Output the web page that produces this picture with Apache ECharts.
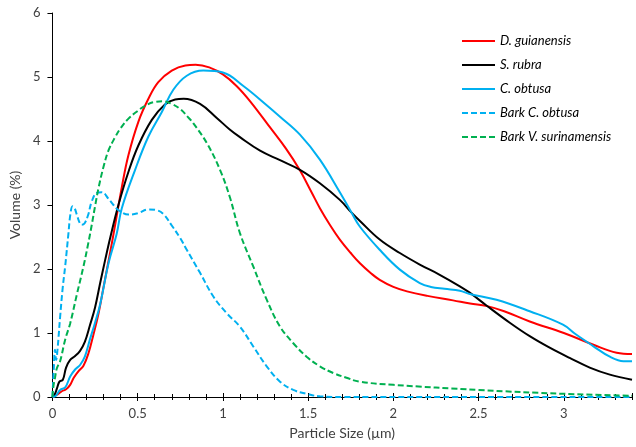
<!DOCTYPE html>
<html>
<head>
<meta charset="utf-8">
<script src="https://cdn.jsdelivr.net/npm/echarts@6/dist/echarts.min.js"></script>
<style>
html,body{margin:0;padding:0;background:#fff;}
#chart{width:636px;height:447px;}
</style>
</head>
<body>
<div id="chart"></div>
<script>
var seriesNames = ['D. guianensis', 'S. rubra', 'C. obtusa', 'Bark C. obtusa', 'Bark V. surinamensis'];
var xTickLabels = ['0', '0.5', '1', '1.5', '2', '2.5', '3'];
var yTickLabels = ['0', '1', '2', '3', '4', '5', '6'];

var dGuianensis = [[0,0],[0.03,0.04],[0.055,0.09],[0.08,0.12],[0.104,0.19],[0.125,0.30],[0.152,0.40],[0.182,0.49],[0.211,0.68],[0.24,0.97],[0.27,1.30],[0.30,1.72],[0.34,2.28],[0.37,2.72],[0.407,3.28],[0.446,3.78],[0.504,4.30],[0.563,4.66],[0.621,4.92],[0.70,5.10],[0.78,5.18],[0.84,5.19],[0.92,5.15],[1.0,5.04],[1.08,4.86],[1.16,4.62],[1.28,4.20],[1.37,3.88],[1.45,3.55],[1.52,3.20],[1.569,2.95],[1.63,2.68],[1.686,2.46],[1.75,2.25],[1.804,2.09],[1.87,1.93],[1.92,1.83],[2.0,1.72],[2.08,1.65],[2.2,1.58],[2.35,1.51],[2.45,1.46],[2.55,1.42],[2.65,1.34],[2.8,1.18],[3.0,1.0],[3.17,0.82],[3.31,0.69],[3.4,0.67]];

var sRubra = [[0,0],[0.015,0.05],[0.026,0.13],[0.041,0.24],[0.061,0.27],[0.08,0.46],[0.104,0.58],[0.133,0.64],[0.162,0.72],[0.19,0.86],[0.22,1.12],[0.25,1.40],[0.28,1.78],[0.31,2.15],[0.34,2.50],[0.387,3.0],[0.446,3.52],[0.504,3.93],[0.583,4.33],[0.66,4.57],[0.72,4.65],[0.77,4.66],[0.866,4.58],[0.964,4.36],[1.04,4.18],[1.10,4.06],[1.218,3.85],[1.335,3.70],[1.452,3.55],[1.569,3.34],[1.686,3.08],[1.755,2.88],[1.804,2.75],[1.92,2.46],[2.038,2.25],[2.155,2.07],[2.272,1.91],[2.39,1.73],[2.448,1.63],[2.546,1.43],[2.683,1.16],[2.80,0.95],[2.917,0.77],[3.034,0.61],[3.152,0.46],[3.27,0.35],[3.4,0.27]];

var cObtusa = [[0,0],[0.02,0.02],[0.045,0.11],[0.075,0.15],[0.104,0.32],[0.133,0.43],[0.162,0.50],[0.19,0.63],[0.22,0.90],[0.25,1.16],[0.28,1.45],[0.33,2.10],[0.377,2.55],[0.407,2.95],[0.485,3.55],[0.563,4.07],[0.641,4.45],[0.709,4.80],[0.788,5.02],[0.885,5.10],[1.0,5.07],[1.12,4.86],[1.257,4.56],[1.335,4.38],[1.452,4.10],[1.569,3.71],[1.686,3.20],[1.755,2.88],[1.804,2.66],[1.92,2.30],[2.038,1.99],[2.155,1.78],[2.22,1.72],[2.3,1.69],[2.39,1.66],[2.448,1.61],[2.605,1.52],[2.80,1.34],[2.995,1.13],[3.07,0.98],[3.17,0.80],[3.27,0.63],[3.35,0.56],[3.4,0.56]];

var barkCObtusa = [[0,0],[0.008,0.45],[0.015,0.74],[0.022,0.58],[0.03,0.75],[0.045,1.25],[0.06,1.70],[0.075,2.05],[0.094,2.56],[0.105,2.85],[0.118,2.98],[0.13,2.95],[0.143,2.85],[0.16,2.72],[0.172,2.69],[0.19,2.72],[0.21,2.85],[0.23,3.05],[0.26,3.19],[0.29,3.20],[0.328,3.10],[0.358,3.0],[0.387,2.92],[0.446,2.85],[0.5,2.87],[0.563,2.93],[0.61,2.92],[0.65,2.86],[0.70,2.68],[0.75,2.48],[0.788,2.30],[0.866,1.94],[0.944,1.57],[1.022,1.31],[1.10,1.10],[1.178,0.79],[1.257,0.48],[1.335,0.24],[1.413,0.11],[1.491,0.05],[1.569,0.01],[1.7,0],[2.5,0],[3.4,0]];

var barkVSurinamensis = [[0,0],[0.006,0.17],[0.015,0.30],[0.026,0.45],[0.045,0.56],[0.075,0.90],[0.104,1.15],[0.143,1.60],[0.182,2.04],[0.21,2.40],[0.23,2.68],[0.25,2.98],[0.27,3.26],[0.30,3.60],[0.33,3.86],[0.368,4.06],[0.40,4.20],[0.446,4.35],[0.50,4.47],[0.543,4.55],[0.60,4.61],[0.65,4.62],[0.70,4.58],[0.749,4.50],[0.80,4.36],[0.826,4.28],[0.905,3.97],[0.983,3.55],[1.041,3.12],[1.10,2.56],[1.178,2.04],[1.257,1.52],[1.335,1.10],[1.413,0.84],[1.491,0.63],[1.569,0.48],[1.647,0.375],[1.725,0.30],[1.80,0.24],[2.0,0.19],[2.5,0.11],[3.0,0.05],[3.4,0.02]];

var seriesData = [dGuianensis, sRubra, cObtusa, barkCObtusa, barkVSurinamensis];
var seriesColors = ['#FF0000', '#000000', '#00B0F0', '#00B0F0', '#00B050'];
var seriesDashed = [false, false, false, true, true];

var FONT = 'Lato, "Open Sans", sans-serif';
var chart = echarts.init(document.getElementById('chart'), null, {renderer: 'canvas'});

function xAx(interval, inside, len, withLabels, withLine) {
  return {
    type: 'value', min: 0, max: 3.4, interval: interval,
    position: 'bottom',
    name: withLabels ? 'Particle Size (\u00b5m)' : '',
    nameLocation: 'middle', nameGap: 29,
    nameTextStyle: {fontFamily: FONT, fontSize: 14, color: '#404040'},
    axisLine: {show: withLine, onZero: false, lineStyle: {color: '#000', width: 1}},
    axisTick: {show: true, inside: inside, length: len, lineStyle: {color: '#000', width: 1}},
    axisLabel: {
      show: withLabels, showMaxLabel: false, margin: 10,
      fontFamily: FONT, fontSize: 13, color: '#404040',
      formatter: function (v) {
        var i = Math.round(v / 0.5);
        return (Math.abs(v - i * 0.5) < 1e-6 && xTickLabels[i] !== undefined) ? xTickLabels[i] : '';
      }
    },
    splitLine: {show: false}
  };
}

var option = {
  animation: false,
  backgroundColor: '#fff',
  grid: {left: 52, right: 4, top: 13, bottom: 50, containLabel: false},
  legend: {
    orient: 'vertical', left: 461, top: 34, padding: 0,
    itemWidth: 33, itemHeight: 14, itemGap: 10,
    itemStyle: {opacity: 0, borderWidth: 0},
    data: seriesNames,
    textStyle: {fontFamily: FONT, fontSize: 13, fontStyle: 'italic', color: '#000', lineHeight: 14}
  },
  xAxis: [
    xAx(0.5, false, 4, true, true),
    xAx(0.5, true, 4, false, false),
    xAx(0.1, false, 3, false, false),
    xAx(0.1, true, 3, false, false)
  ],
  yAxis: {
    type: 'value', min: 0, max: 6, interval: 1,
    name: 'Volume (%)', nameLocation: 'middle', nameGap: 25, nameRotate: 90,
    nameTextStyle: {fontFamily: FONT, fontSize: 14, color: '#404040'},
    axisLine: {show: true, lineStyle: {color: '#000', width: 1}},
    axisTick: {show: true, inside: false, length: 5, lineStyle: {color: '#000'}},
    axisLabel: {
      margin: 12, fontFamily: FONT, fontSize: 13, color: '#404040',
      formatter: function (v) { var i = Math.round(v); return yTickLabels[i] !== undefined ? yTickLabels[i] : ''; }
    },
    splitLine: {show: false}
  },
  series: seriesNames.map(function (n, k) {
    return {
      name: n, type: 'line', xAxisIndex: 0,
      data: seriesData[k], smooth: 0.4, showSymbol: false, symbol: 'none',
      lineStyle: {color: seriesColors[k], width: 2, type: seriesDashed[k] ? [6, 3] : 'solid'},
      itemStyle: {color: seriesColors[k]},
      z: 2 + k
    };
  })
};
chart.setOption(option);
</script>
</body>
</html>
